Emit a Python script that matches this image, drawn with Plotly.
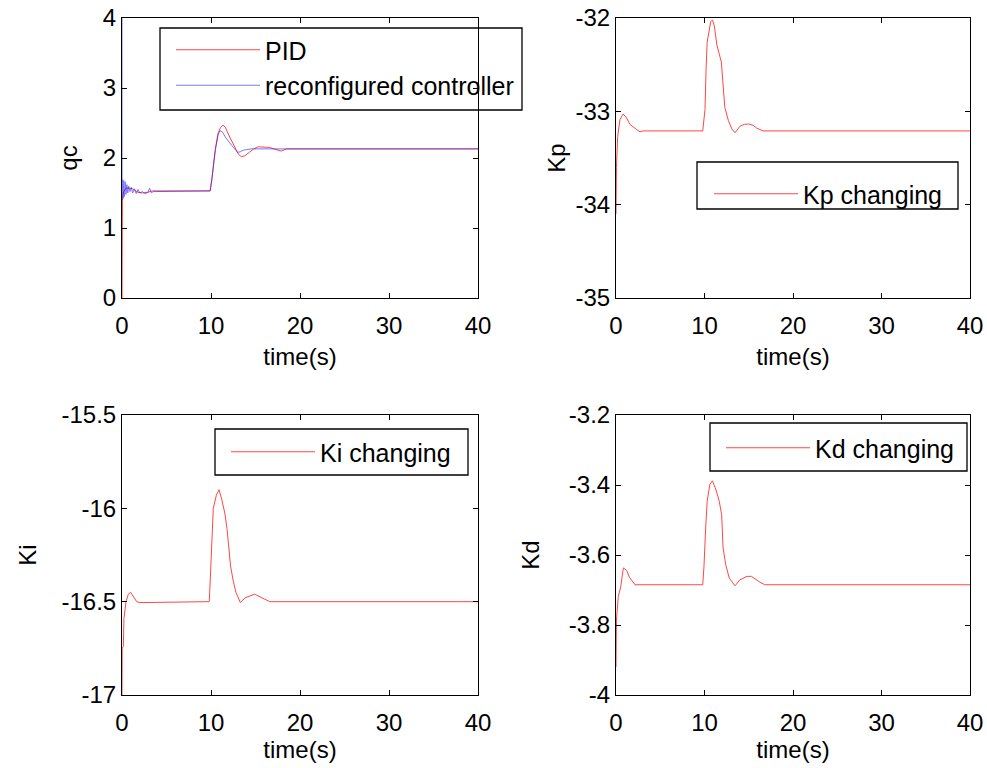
import plotly.graph_objects as go

# ---------------- data ----------------
qc_pid_t = [0, 0.0, 0.05, 0.2, 0.45, 0.8, 1.2, 1.8, 2.3, 2.9, 3.4, 9.9, 10.1, 10.3, 10.5, 10.8,
            11.1, 11.35, 11.6, 12.1, 12.7, 13.1, 13.4, 13.8, 14.3, 14.8, 15.3, 16.0, 16.6,
            17.3, 17.9, 18.5, 40]
qc_pid_v = [0, 1.1, 1.42, 1.52, 1.57, 1.57, 1.56, 1.51, 1.50, 1.51, 1.53, 1.53, 1.69, 1.93, 2.14, 2.36,
            2.44, 2.47, 2.44, 2.30, 2.14, 2.05, 2.02, 2.03, 2.08, 2.13, 2.16, 2.16, 2.15,
            2.12, 2.10, 2.13, 2.13]

qc_rc_t = [0, 0.01, 0.05, 0.12, 0.2, 0.28, 0.36, 0.45, 0.55, 0.65, 0.75, 0.9, 1.05, 1.2, 1.4, 1.6,
           1.8, 2.0, 2.3, 2.6, 2.9, 3.1, 3.3, 3.5, 3.8, 4.2, 9.9, 10.1, 10.3, 10.5, 10.8, 11.0,
           11.3, 11.6, 12.2, 12.8, 13.0, 13.3, 13.6, 14.0, 14.5, 40]
qc_rc_v = [4.3, 1.40, 1.70, 1.42, 1.68, 1.45, 1.66, 1.48, 1.62, 1.50, 1.60, 1.52, 1.58, 1.50, 1.56, 1.49,
           1.55, 1.50, 1.52, 1.49, 1.51, 1.57, 1.50, 1.52, 1.52, 1.53, 1.53, 1.70, 1.92, 2.12, 2.33, 2.39,
           2.37, 2.30, 2.20, 2.10, 2.08, 2.09, 2.11, 2.12, 2.13, 2.13]

kp_t = [0, 0.05, 0.19, 0.45, 0.79, 1.13, 1.58, 1.92, 2.26, 2.71, 3.05, 9.8, 10.06, 10.17, 10.3, 10.7,
        10.9, 11.1, 11.4, 11.9, 12.1, 12.3, 12.7, 13.1, 13.45, 14.0, 14.5, 14.95, 15.5, 15.9, 16.6, 40]
kp_v = [-34.1, -33.6, -33.27, -33.09, -33.03, -33.06, -33.14, -33.17, -33.19, -33.22, -33.21, -33.21,
        -32.98, -32.57, -32.26, -32.04, -32.02, -32.08, -32.29, -32.47, -32.68, -32.96, -33.10, -33.19,
        -33.23, -33.16, -33.14, -33.135, -33.15, -33.18, -33.21, -33.21]

ki_t = [0, 0.02, 0.15, 0.22, 0.45, 0.71, 0.97, 1.27, 1.65, 2.0, 9.8, 9.9, 10.1, 10.26, 10.6, 10.9,
        11.2, 11.57, 11.8, 12.0, 12.2, 12.5, 12.8, 13.3, 13.8, 14.9, 15.7, 16.6, 40]
ki_v = [-17.0, -16.75, -16.74, -16.59, -16.50, -16.46, -16.45, -16.47, -16.50, -16.505, -16.5, -16.40,
        -16.18, -16.0, -15.93, -15.9, -15.95, -16.03, -16.11, -16.2, -16.31, -16.39, -16.45, -16.505,
        -16.48, -16.46, -16.477, -16.5, -16.5]

kd_t = [0, 0.02, 0.05, 0.26, 0.53, 0.83, 1.2, 1.5, 1.77, 2.15, 9.8, 9.94, 10.13, 10.3, 10.6, 10.9,
        11.3, 11.67, 11.94, 12.1, 12.4, 12.8, 13.45, 14.0, 14.8, 15.3, 16.1, 16.8, 40]
kd_v = [-3.92, -3.80, -3.786, -3.719, -3.691, -3.637, -3.644, -3.663, -3.672, -3.685, -3.685, -3.633,
        -3.523, -3.447, -3.399, -3.388, -3.414, -3.447, -3.485, -3.58, -3.628, -3.666, -3.688, -3.671,
        -3.661, -3.661, -3.675, -3.685, -3.685]

x_ticks = [0, 10, 20, 30, 40]

# ---------------- figure ----------------
W, H = 987, 768
RED = "rgb(255,70,70)"
BLUE = "rgb(30,30,255)"
FONT = "Arial, Liberation Sans, sans-serif"
FS = 24
LFS = 25

def fx(px):                  # window x pixel -> paper fraction
    return px / W

def fy(py):                  # window y pixel -> paper fraction
    return 1 - py / H

fig = go.Figure()
fig.add_trace(go.Scatter(x=qc_pid_t, y=qc_pid_v, mode="lines", name="PID",
                         line=dict(color=RED, width=1), xaxis="x", yaxis="y",
                         legend="legend", legendgroup="a"))
fig.add_trace(go.Scatter(x=qc_rc_t, y=qc_rc_v, mode="lines", name="reconfigured controller",
                         line=dict(color=BLUE, width=1), opacity=0.6, xaxis="x", yaxis="y",
                         legend="legend", legendgroup="b"))
fig.add_trace(go.Scatter(x=kp_t, y=kp_v, mode="lines", name="Kp changing",
                         line=dict(color=RED, width=1), xaxis="x2", yaxis="y2", legend="legend2"))
fig.add_trace(go.Scatter(x=ki_t, y=ki_v, mode="lines", name="Ki changing",
                         line=dict(color=RED, width=1), xaxis="x3", yaxis="y3", legend="legend3"))
fig.add_trace(go.Scatter(x=kd_t, y=kd_v, mode="lines", name="Kd changing",
                         line=dict(color=RED, width=1), xaxis="x4", yaxis="y4", legend="legend4"))

axis_common = dict(showline=True, linecolor="black", linewidth=1, mirror="ticks",
                   ticks="inside", ticklen=5, tickcolor="black", showgrid=False,
                   zeroline=False, automargin=False, ticklabeloverflow="allow",
                   tickfont=dict(size=FS, color="black", family=FONT))

def xax(dom, anchor, standoff):
    return dict(axis_common, domain=dom, anchor=anchor, range=[0, 40], tickvals=x_ticks,
                ticklabelstandoff=6,
                title=dict(text="time(s)", font=dict(size=FS, color="black", family=FONT),
                           standoff=standoff))

def yax(dom, anchor, rng, tv, tt, title, standoff):
    return dict(axis_common, domain=dom, anchor=anchor, range=rng, tickvals=tv, ticktext=tt,
                title=dict(text=title, font=dict(size=FS, color="black", family=FONT),
                           standoff=standoff))

left = [fx(122), fx(478)]
right = [fx(616), fx(970)]
top = [fy(298), fy(18)]
bot = [fy(695), fy(415)]

legend_common = dict(borderwidth=0, bgcolor="rgba(255,255,255,0.01)",
                     font=dict(size=LFS, color="black", family=FONT), itemwidth=84,
                     xanchor="left", yanchor="top")

# legend frames (pixel boxes as in the reference)
boxes = [(160, 28, 522, 110), (697, 162, 958, 209), (215, 429, 468, 475), (710, 423, 967, 471)]
shapes = []
for (x0, y0, x1, y1) in boxes:
    shapes.append(dict(type="rect", xref="paper", yref="paper",
                       x0=fx(x0), x1=fx(x1), y0=fy(y1), y1=fy(y0),
                       line=dict(color="black", width=1.3), fillcolor="white", layer="below"))

fig.update_layout(
    width=W, height=H, margin=dict(l=0, r=0, t=0, b=0, autoexpand=False),
    paper_bgcolor="white", plot_bgcolor="rgba(0,0,0,0)",
    font=dict(family=FONT, color="black"),
    xaxis=xax(left, "y", 10),
    yaxis=yax(top, "x", [0, 4], [0, 1, 2, 3, 4], ["0", "1", "2", "3", "4"], "qc", 18),
    xaxis2=xax(right, "y2", 10),
    yaxis2=yax(top, "x2", [-35, -32], [-35, -34, -33, -32], ["-35", "-34", "-33", "-32"], "Kp", 3),
    xaxis3=xax(left, "y3", 2),
    yaxis3=yax(bot, "x3", [-17, -15.5], [-17, -16.5, -16, -15.5], ["-17", "-16.5", "-16", "-15.5"], "Ki", 18),
    xaxis4=xax(right, "y4", 2),
    yaxis4=yax(bot, "x4", [-4, -3.2], [-4, -3.8, -3.6, -3.4, -3.2], ["-4", "-3.8", "-3.6", "-3.4", "-3.2"], "Kd", 22),
    legend=dict(legend_common, x=fx(171), y=fy(27), tracegroupgap=0),
    legend2=dict(legend_common, x=fx(709), y=fy(171)),
    legend3=dict(legend_common, x=fx(226), y=fy(429)),
    legend4=dict(legend_common, x=fx(721), y=fy(425)),
    shapes=shapes,
)

fig.write_html("out.html", config={"displayModeBar": False},
               post_script="document.body.style.margin='0px';document.body.style.overflow='hidden';")
